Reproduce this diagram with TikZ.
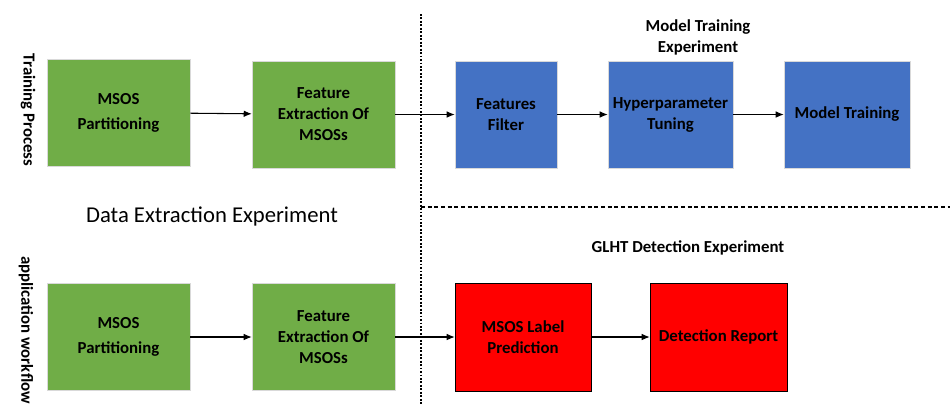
\documentclass[tikz,border=0pt]{standalone}
\usepackage{fontspec}
\setmainfont{Carlito}
\usepackage{tikz}
\usetikzlibrary{arrows.meta}

\definecolor{boxgreen}{HTML}{70AD47}
\definecolor{boxblue}{HTML}{4472C4}
\definecolor{boxred}{HTML}{FF0000}

\begin{document}
\begin{tikzpicture}[x=0.75pt,y=0.75pt,yscale=-1,xscale=1,
	greenbox/.style={draw=black!15,fill=boxgreen,minimum height=80.25pt,align=center,font=\fontsize{12.6}{15.75}\selectfont\bfseries},
	bluebox/.style={draw=black!15,fill=boxblue,minimum height=80.25pt,align=center,font=\fontsize{12.6}{15.75}\selectfont\bfseries},
	redbox/.style={draw=black,fill=boxred,minimum height=81pt,align=center,font=\fontsize{12.6}{15.75}\selectfont\bfseries},
	title/.style={align=center,font=\fontsize{12.6}{15.75}\selectfont\bfseries},
	sidelabel/.style={rotate=-90,font=\fontsize{12.6}{15.75}\selectfont\bfseries},
	flow/.style={-{Latex[length=6pt,width=5pt]},line width=0.8pt}]
			\useasboundingbox (0,0) rectangle (950,405);
			
			\draw[line width=1.4pt,dash pattern=on 1.4pt off 1.2pt]    (421,14) -- (421,405) ;
			\draw[line width=1.6pt,dash pattern=on 3pt off 2pt]    (421,207) -- (950,207) ;
			
			\node (trainlbl) [sidelabel] at (28,110) {Training Process};
			\node (applbl) [sidelabel] at (26,330) {application workflow};
			
			\node (tmsos) [greenbox,minimum width=107.25pt] at (118.5,112.5) {MSOS\\[3pt]Partitioning};
			\node (tfeat) [greenbox,minimum width=107.25pt] at (323.5,114.5) {Feature\\Extraction Of\\MSOSs};
			\node (filt) [bluebox,minimum width=76.5pt] at (506,114.5) {Features\\Filter};
			\node (hyper) [bluebox,minimum width=93.75pt] at (670.5,114.5) {Hyperparameter\\Tuning};
			\node (model) [bluebox,minimum width=94.5pt] at (847,114.5) {Model Training};
			\node (mtexp) [title] at (698,37) {Model Training\\Experiment};
			
			\node (dataexp) [font=\fontsize{17}{20}\selectfont] at (212,216) {Data Extraction Experiment};
			\node (glht) [title] at (688,248) {GLHT Detection Experiment};
			
			\node (amsos) [greenbox,minimum width=107.25pt] at (118.5,337) {MSOS\\[3pt]Partitioning};
			\node (afeat) [greenbox,minimum width=107.25pt] at (323.5,337) {Feature\\Extraction Of\\MSOSs};
			\node (pred) [redbox,minimum width=102pt] at (523,337) {MSOS Label\\Prediction};
			\node (report) [redbox,minimum width=102.75pt] at (718.5,337) {Detection Report};
			
			\draw[flow] (tmsos) -- (tfeat);
			\draw[flow] (tfeat) -- (filt);
			\draw[flow] (filt) -- (hyper);
			\draw[flow] (hyper) -- (model);
			\draw[flow] (amsos) -- (afeat);
			\draw[flow] (afeat) -- (pred);
			\draw[flow] (pred) -- (report);
			\end{tikzpicture}
\end{document}
